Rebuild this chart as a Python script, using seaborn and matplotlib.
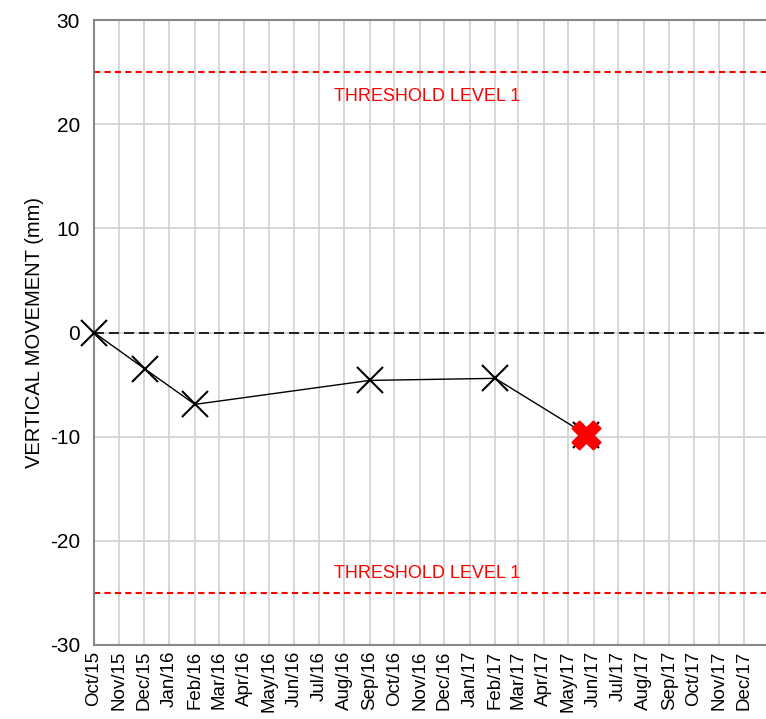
import matplotlib
matplotlib.use("Agg")
import matplotlib.pyplot as plt
import matplotlib.dates as mdates
import seaborn as sns
import pandas as pd

# Data
dates = ["2015-10-01", "2015-12-02", "2016-02-01", "2016-09-01", "2017-02-01", "2017-05-23"]
movement = [0.0, -3.5, -6.9, -4.6, -4.4, -9.8]
threshold_upper = 25
threshold_lower = -25
threshold_label = "THRESHOLD LEVEL 1"
y_label = "VERTICAL MOVEMENT (mm)"
x_start = "2015-10-01"
x_end = "2017-12-28"

df = pd.DataFrame({"date": pd.to_datetime(dates), "movement": movement})

sns.set_theme(style="white")
plt.rcParams['font.family'] = ['Liberation Sans', 'DejaVu Sans']
plt.rcParams['axes.unicode_minus'] = False

fig = plt.figure(figsize=(7.66, 7.19), dpi=100)
ax = fig.add_axes([94/766, 74/719, 672/766, 625/719])

ax.set_axisbelow(True)
ax.grid(True, which="major", color="#cfcfcf", linewidth=1.2)

ax.axhline(0, color="black", linestyle=(0, (6, 3)), linewidth=1.2, zorder=2)
for t in (threshold_upper, threshold_lower):
    ax.axhline(t, color="#ff0000", linestyle=(0, (3, 2)), linewidth=1.5, zorder=2)

sns.lineplot(data=df, x="date", y="movement", ax=ax, color="black", linewidth=1.0,
             marker="x", markersize=19, markeredgewidth=1.5, markeredgecolor="black",
             zorder=3, clip_on=False)
last = df.iloc[[-1]]
sns.scatterplot(data=last, x="date", y="movement", ax=ax, marker="X", s=400,
                color="#ff0000", edgecolor="#ff0000", zorder=4, clip_on=False)

xmid = pd.Timestamp("2016-11-10")
ax.text(mdates.date2num(xmid), 22.7, threshold_label, color="#ff0000", fontsize=13,
        ha="center", va="center")
ax.text(mdates.date2num(xmid), -23.1, threshold_label, color="#ff0000", fontsize=13,
        ha="center", va="center")

ax.set_xlim(pd.Timestamp(x_start), pd.Timestamp(x_end))
ax.set_ylim(-30, 30)
ax.set_yticks([-30, -20, -10, 0, 10, 20, 30])
ax.xaxis.set_major_locator(mdates.MonthLocator())
ax.xaxis.set_major_formatter(mdates.DateFormatter("%b/%y"))
ax.tick_params(axis="x", labelrotation=90, labelsize=13.5, length=0, pad=4, colors="black")
ax.tick_params(axis="y", labelsize=15, length=0, pad=10, colors="black")
ax.set_xlabel("")
ax.set_ylabel(y_label, fontsize=14.5, labelpad=4, color="black")

for s in ["left", "top", "bottom"]:
    ax.spines[s].set_color("#888888")
    ax.spines[s].set_linewidth(1.5)
ax.spines["right"].set_visible(False)

fig.savefig("out.png", dpi=100)
